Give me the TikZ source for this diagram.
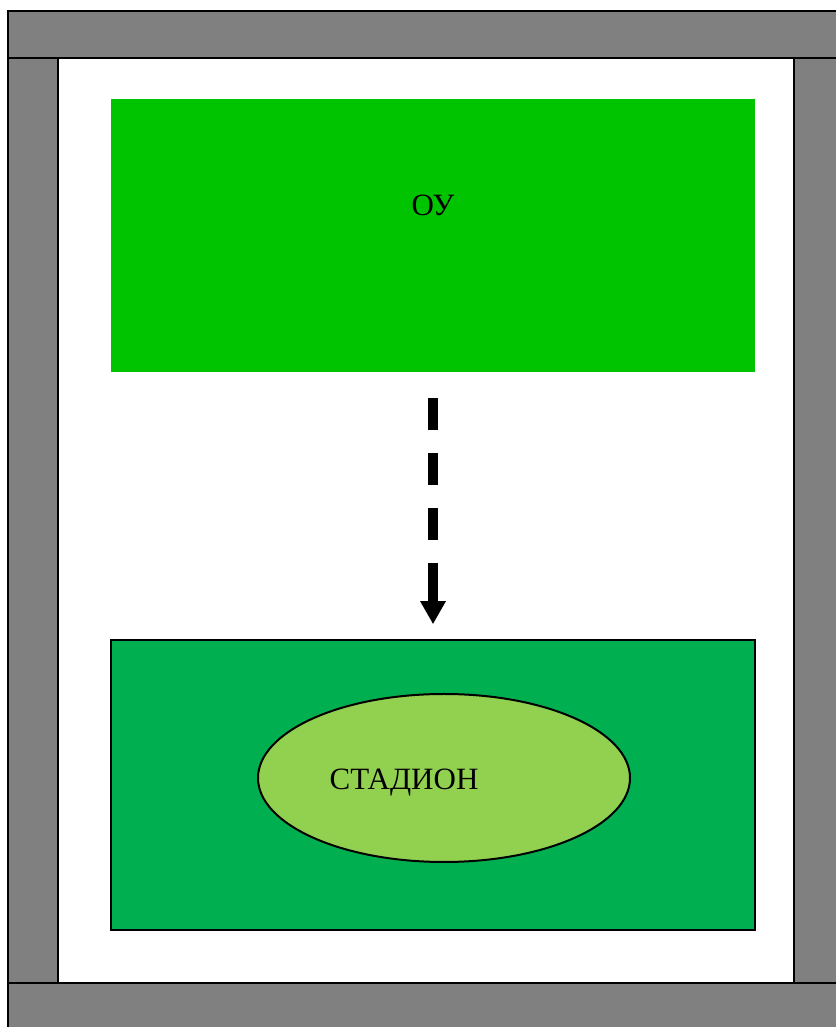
\documentclass[tikz,border=0pt]{standalone}
\usepackage{fontspec}
\setmainfont{Liberation Serif}
\usepackage{tikz}
\usetikzlibrary{shapes.geometric, arrows.meta, positioning, calc}
\definecolor{wallgray}{RGB}{128, 128, 128}
\definecolor{yardgreen}{RGB}{0, 196, 0}
\definecolor{fieldgreen}{RGB}{0, 176, 80}
\definecolor{stadiumgreen}{RGB}{146, 208, 80}

\begin{document}
\begin{tikzpicture}[x=1pt, y=1pt,
  wall/.style={fill=wallgray, draw=black, line width=2.5pt},
  lbl/.style={font=\fontsize{31}{36}\selectfont, text=black, inner sep=0pt}]
\useasboundingbox (0,0) rectangle (835,1027);
\fill[white] (0,0) rectangle (835,1027);

% Outer walls
\draw[wall] (8,969) rectangle (845,1016);
\draw[wall] (8,44) rectangle (58,969);
\draw[wall] (794,44) rectangle (845,969);
\draw[wall] (8,-10) rectangle (845,44);

% School block
\node[fill=yardgreen, minimum width=644pt, minimum height=273pt, inner sep=0pt] (ou) at (433,791.5) {};
\node[lbl] (ou text) at ([yshift=30pt]ou.center) {ОУ};

% Sports ground
\node[fill=fieldgreen, draw=black, line width=1.5pt, minimum width=644pt, minimum height=290pt, inner sep=0pt] (field) at (433,242) {};
\node[ellipse, fill=stadiumgreen, draw=black, line width=2pt, minimum width=372pt, minimum height=168pt, inner sep=0pt] (stadium) at (444,249) {};
\node[lbl] (stadium text) at (404,244) {СТАДИОН};

% Route
\draw[line width=9.5pt, dash pattern=on 32pt off 23pt on 32pt off 23pt on 32pt off 23pt on 45pt off 23pt, -{Triangle[width=24pt, length=23pt]}, shorten <=26pt, shorten >=15pt] (ou.south) -- (field.north);
\end{tikzpicture}
\end{document}
